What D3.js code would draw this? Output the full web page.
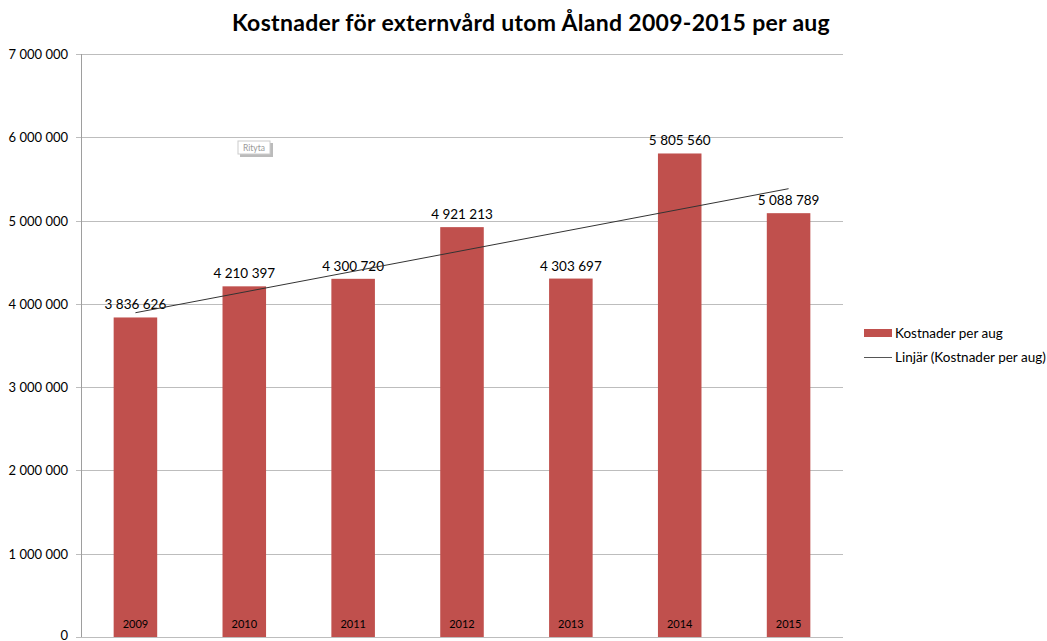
<!DOCTYPE html>
<html>
<meta charset="utf-8">
<script src="https://cdn.jsdelivr.net/npm/d3@7"></script>
<style>
body{ margin:0; background:white; }
text{ font-family: Lato, "Open Sans", sans-serif; fill:#000; }
.grid line{ stroke:#bdbdbd; stroke-width:1; }
</style>
<body>
<div id="chart"></div>
<script>
// data
var years = ["2009","2010","2011","2012","2013","2014","2015"];
var kostnader = [3836626, 4210397, 4300720, 4921213, 4303697, 5805560, 5088789];
var yTicks = [0,1000000,2000000,3000000,4000000,5000000,6000000,7000000];
var titleText = "Kostnader för externvård utom Åland 2009-2015 per aug";
var legendLabels = ["Kostnader per aug","Linjär (Kostnader per aug)"];

var width = 1047, height = 641;
var barCol = "#C0504D";

var svg = d3.select("#chart").append("svg").attr("width",width).attr("height",height);

var x = d3.scaleBand().domain(years).range([81,843]).paddingInner(0.6).paddingOuter(0.3);
var y = d3.scaleLinear().domain([0,7000000]).range([637,54]);

var fmt = function(v){ return d3.format(",")(v).replace(/,/g," "); };

// gridlines
var grid = svg.append("g").attr("class","grid");
grid.selectAll("line").data(yTicks).enter().append("line")
  .attr("x1",76).attr("x2",843)
  .attr("y1",function(d){return Math.round(y(d))+0.5})
  .attr("y2",function(d){return Math.round(y(d))+0.5});

// y axis line
svg.append("line").attr("x1",81.5).attr("x2",81.5).attr("y1",y(7000000)).attr("y2",637)
  .attr("stroke","#9e9e9e");

svg.append("g").selectAll("text").data(yTicks).enter().append("text")
  .attr("x",68).attr("y",function(d){return d==0 ? y(d)+3 : y(d)+5})
  .attr("text-anchor","end").style("font-size","13px")
  .text(fmt);

// bars
svg.append("g").selectAll("rect").data(kostnader).enter().append("rect")
  .attr("x",function(d,i){return x(years[i])})
  .attr("width",x.bandwidth())
  .attr("y",function(d){return y(d)})
  .attr("height",function(d){return y(0)-y(d)})
  .attr("fill",barCol);

// value labels
svg.append("g").selectAll("text").data(kostnader).enter().append("text")
  .attr("x",function(d,i){return x(years[i])+x.bandwidth()/2})
  .attr("y",function(d){return y(d)-8})
  .attr("text-anchor","middle").style("font-size","13.5px")
  .text(fmt);

// year labels inside bars
svg.append("g").selectAll("text").data(years).enter().append("text")
  .attr("x",function(d){return x(d)+x.bandwidth()/2})
  .attr("y",628)
  .attr("text-anchor","middle").style("font-size","11px")
  .text(function(d){return d});

// linear trend (least squares over category index)
var n = kostnader.length;
var mx = (n+1)/2, my = d3.mean(kostnader);
var sxy = 0, sxx = 0;
kostnader.forEach(function(v,i){ sxy += (i+1-mx)*(v-my); sxx += (i+1-mx)*(i+1-mx); });
var slope = sxy/sxx, icpt = my - slope*mx;
var cx = function(i){ return x(years[i])+x.bandwidth()/2; };
svg.append("line")
  .attr("x1",cx(0)).attr("y1",y(icpt+slope*1))
  .attr("x2",cx(n-1)).attr("y2",y(icpt+slope*n))
  .attr("stroke","#333").attr("stroke-width",1);

// title
svg.append("text").attr("x",531).attr("y",31).attr("text-anchor","middle")
  .style("font-size","23px").style("font-weight","bold").style("letter-spacing","0.3px")
  .text(titleText);

// legend
svg.append("rect").attr("x",864).attr("y",329).attr("width",28).attr("height",8).attr("fill",barCol);
svg.append("text").attr("x",895).attr("y",338).style("font-size","13.5px").text(legendLabels[0]);
svg.append("line").attr("x1",864).attr("x2",892).attr("y1",357.5).attr("y2",357.5).attr("stroke","#555");
svg.append("text").attr("x",895).attr("y",362).style("font-size","13.5px").text(legendLabels[1]);

// "Rityta" hover tag
var tag = svg.append("g").attr("transform","translate(238,141)");
tag.append("rect").attr("x",2).attr("y",2).attr("width",33).attr("height",14).attr("fill","#bbb");
tag.append("rect").attr("width",32).attr("height",13).attr("fill","#fff").attr("stroke","#ccc");
tag.append("text").attr("x",16).attr("y",10).attr("text-anchor","middle")
  .style("font-size","8.5px").style("fill","#999").text("Rityta");
</script>
</body>
</html>
